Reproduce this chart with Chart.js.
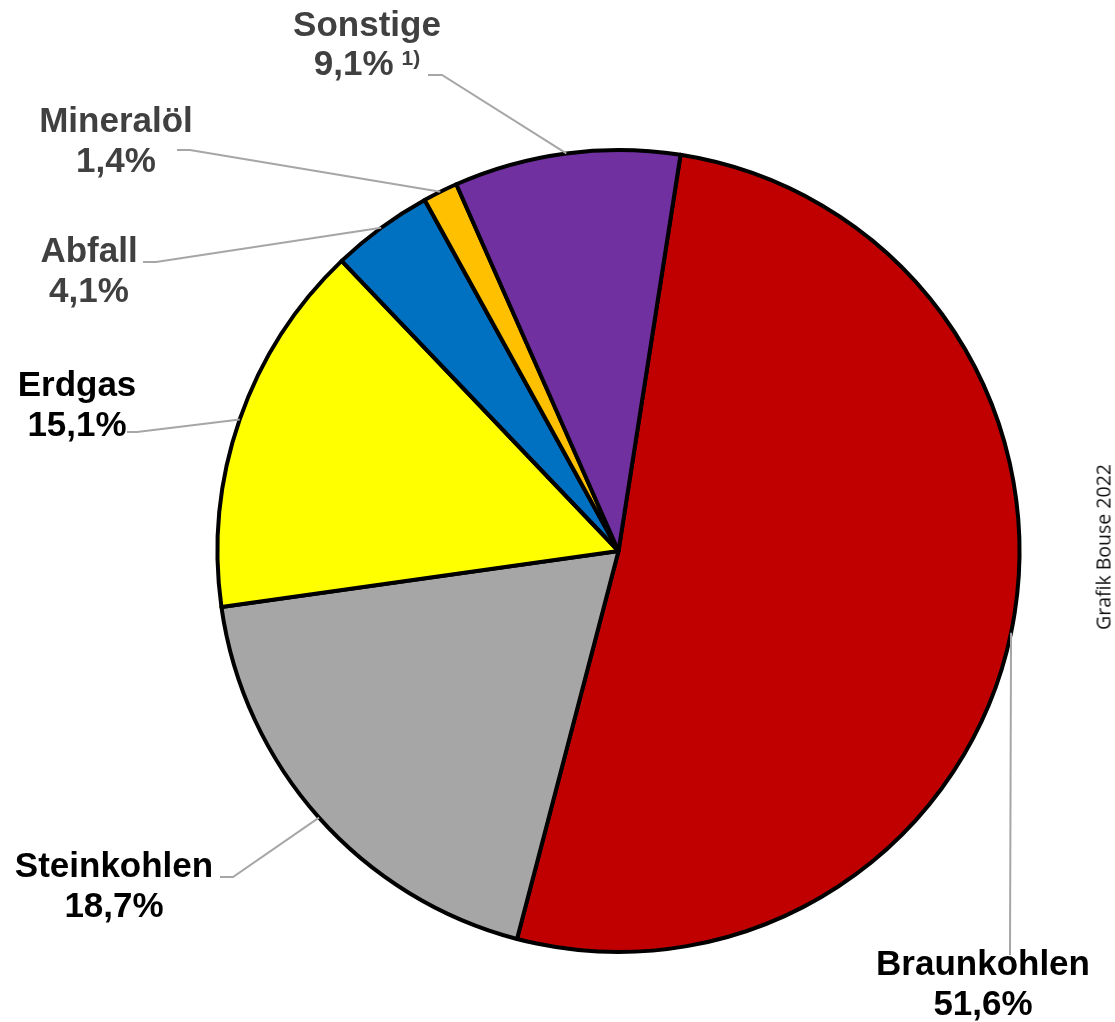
<!DOCTYPE html>
<html>
<head>
<meta charset="utf-8">
<title>Stromerzeugung Anteile</title>
<script src="https://cdn.jsdelivr.net/npm/chart.js@4.4.0/dist/chart.umd.min.js"></script>
<style>
  html, body { margin: 0; padding: 0; background: #fff; }
  #wrap { position: relative; width: 1115px; height: 1022px; }
  #credit {
    position: absolute; left: 1103px; top: 547px;
    transform: translate(-50%, -50%) rotate(-90deg);
    font-family: "Open Sans", sans-serif; font-size: 19.5px; color: #111;
    white-space: nowrap;
  }
</style>
</head>
<body>
<div id="wrap">
  <canvas id="chart0" width="1115" height="1022"></canvas>
  <div id="credit">Grafik Bouse 2022</div>
</div>
<script>
// data, clockwise from the top
var categories = ['Braunkohlen', 'Steinkohlen', 'Erdgas', 'Abfall', 'Mineralöl', 'Sonstige'];
var shares     = [51.6, 18.7, 15.1, 4.1, 1.4, 9.1];
var footnotes  = ['', '', '', '', '', '1)'];
var sliceColors = ['#c00000', '#a6a6a6', '#ffff00', '#0070c0', '#ffc000', '#7030a0'];
var labelColors = ['#000000', '#000000', '#000000', '#404040', '#404040', '#404040'];

// where each label sits: text centre x, first baseline y, leader points (label side first)
var labelPlaces = [
    { x: 983, y: 975, line: [[1010, 955]] },
    { x: 114, y: 877, line: [[220, 877], [233, 877]] },
    { x: 77,  y: 396, line: [[127, 432], [137, 432]] },
    { x: 89,  y: 262, line: [[143, 262], [156, 262]] },
    { x: 116, y: 132, line: [[177, 150], [190, 150]] },
    { x: 367, y: 36,  line: [[428, 75], [442, 75]] }
];

function pct(v) { return v.toFixed(1).replace('.', ',') + '%'; }

var outsideLabels = {
    id: 'outsideLabels',
    afterDatasetsDraw: function(chart) {
        var ctx = chart.ctx;
        var arcs = chart.getDatasetMeta(0).data;
        ctx.save();
        arcs.forEach(function(arc, i) {
            var p = labelPlaces[i];
            var mid = (arc.startAngle + arc.endAngle) / 2;
            var ax = arc.x + Math.cos(mid) * arc.outerRadius;
            var ay = arc.y + Math.sin(mid) * arc.outerRadius;
            // leader line
            ctx.strokeStyle = '#a6a6a6';
            ctx.lineWidth = 2;
            ctx.beginPath();
            ctx.moveTo(p.line[0][0], p.line[0][1]);
            for (var k = 1; k < p.line.length; k++) ctx.lineTo(p.line[k][0], p.line[k][1]);
            ctx.lineTo(ax, ay);
            ctx.stroke();
            // text
            ctx.fillStyle = labelColors[i];
            ctx.textBaseline = 'alphabetic';
            ctx.font = 'bold 35px "Liberation Sans", Arial, sans-serif';
            ctx.textAlign = 'center';
            ctx.fillText(categories[i], p.x, p.y);
            var v = pct(shares[i]);
            if (footnotes[i]) {
                var w1 = ctx.measureText(v).width;
                ctx.font = 'bold 21px "Liberation Sans", Arial, sans-serif';
                var w2 = ctx.measureText(footnotes[i]).width;
                var gap = 8;
                var left = p.x - (w1 + gap + w2) / 2;
                ctx.textAlign = 'left';
                ctx.fillText(footnotes[i], left + w1 + gap, p.y + 29);
                ctx.font = 'bold 35px "Liberation Sans", Arial, sans-serif';
                ctx.fillText(v, left, p.y + 39);
            } else {
                ctx.fillText(v, p.x, p.y + 40);
            }
        });
        ctx.restore();
    }
};

var chart0 = new Chart(document.getElementById('chart0'), {
    type: 'pie',
    data: {
        labels: categories,
        datasets: [{
            data: shares,
            backgroundColor: sliceColors,
            borderColor: '#000000',
            borderWidth: 4,
            borderJoinStyle: 'round'
        }]
    },
    options: {
        responsive: false,
        animation: false,
        rotation: 8.9,
        layout: { padding: { left: 215, right: 93, top: 148, bottom: 68 } },
        plugins: {
            legend: { display: false },
            tooltip: { enabled: false }
        }
    },
    plugins: [outsideLabels]
});
</script>
</body>
</html>
